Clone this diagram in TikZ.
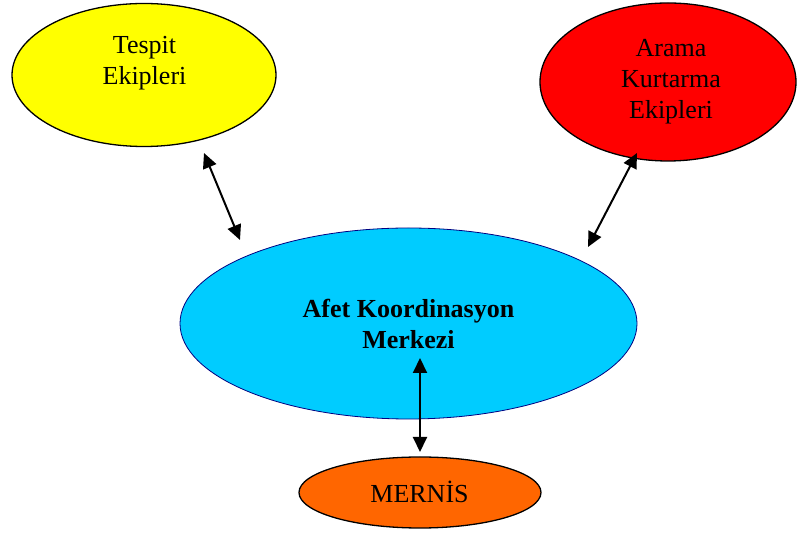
\documentclass[tikz,border=0pt]{standalone}
\usepackage{fontspec}
\setmainfont{Liberation Serif}
\usetikzlibrary{shapes.geometric,arrows.meta}
\definecolor{yel}{HTML}{FFFF00}
\definecolor{rd}{HTML}{FF0000}
\definecolor{cy}{HTML}{00CCFF}
\definecolor{org}{HTML}{FF6600}
\definecolor{navyline}{HTML}{000080}
\begin{document}
\begin{tikzpicture}[x=1pt,y=1pt,
  blob/.style={ellipse,inner sep=0pt,line width=1.3pt,draw=black},
  lbl/.style={align=center,font=\fontsize{26}{31}\selectfont},
  dbl/.style={{Triangle[length=15pt,width=14pt]}-{Triangle[length=15pt,width=14pt]},line width=2pt,black}]
\useasboundingbox (0,0) rectangle (798,535);
\node[blob,fill=yel,minimum width=264pt,minimum height=143pt] (tespit) at (144,460) {};
\node[lbl] (tespittxt) at (144.5,472) {Tespit\\Ekipleri};
\node[blob,fill=rd,minimum width=256pt,minimum height=158pt] (arama) at (668,453) {};
\node[lbl] (aramatxt) at (671,453) {Arama\\Kurtarma\\Ekipleri};
\node[ellipse,inner sep=0pt,line width=0.8pt,draw=navyline,fill=cy,minimum width=457pt,minimum height=191pt] (afet) at (408.5,211.5) {};
\node[lbl,font=\fontsize{26}{31}\selectfont\bfseries] (afettxt) at (408.5,211) {Afet Koordinasyon\\Merkezi};
\node[blob,fill=org,minimum width=242pt,minimum height=71pt] (mernis) at (420,42.5) {};
\node[lbl] (mernistxt) at (419.5,43) {MERNİS};
\coordinate (t1) at (204,382);
\coordinate (t2) at (240,295);
\coordinate (a1) at (637,382);
\coordinate (a2) at (588,288);
\coordinate (m1) at (420,177);
\coordinate (m2) at (420,83);
\draw[dbl] (t1) -- (t2);
\draw[dbl] (a1) -- (a2);
\draw[dbl] (m1) -- (m2);
\end{tikzpicture}
\end{document}
